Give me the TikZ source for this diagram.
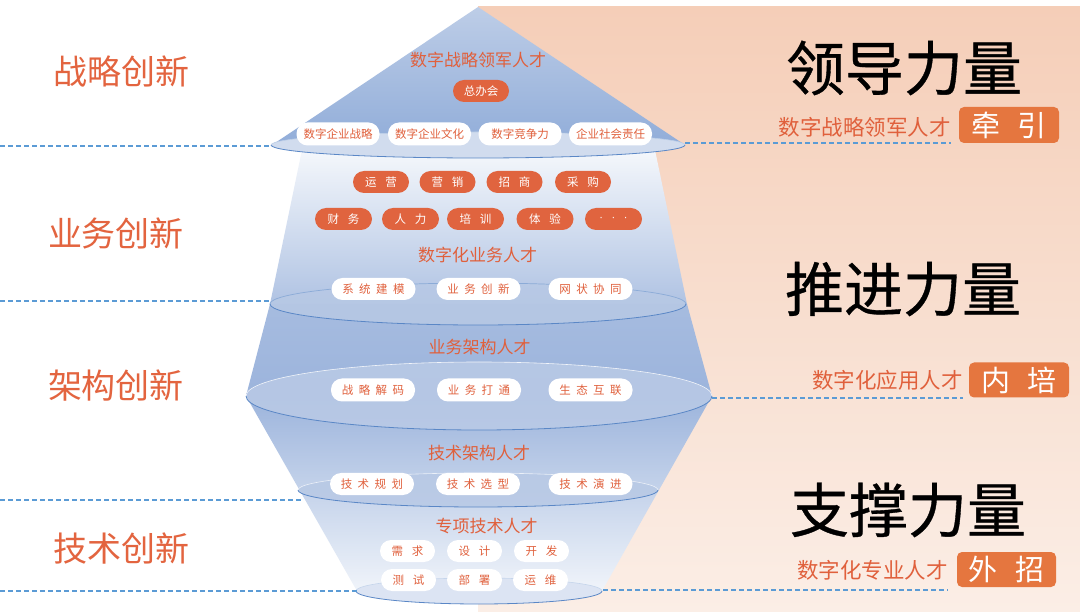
\documentclass[tikz,border=0pt]{standalone}
\usepackage{fontspec}
\setmainfont{Noto Sans CJK SC}
\newfontfamily\titlefont[FakeBold=0.6]{Noto Sans CJK SC}
\newfontfamily\dotfont{DejaVu Sans}
\definecolor{org}{HTML}{E0603C}
\definecolor{lorg}{HTML}{E3643F}
\definecolor{pillorg}{HTML}{E0643F}
\definecolor{badge}{HTML}{E5763F}
\definecolor{dashc}{HTML}{5B9BD5}
\definecolor{edgec}{HTML}{5A87C6}
\definecolor{peachT}{HTML}{F5CEB8}
\definecolor{peachM}{HTML}{EEB395}
\definecolor{peachB}{HTML}{FBEEE6}
\definecolor{blA}{HTML}{BDCDE7}
\definecolor{blB}{HTML}{91ADD9}
\definecolor{bmid}{HTML}{9CB4DC}
\definecolor{pale}{HTML}{F0F4FA}
\tikzset{
  wpill/.style={fill=white, text=org, rounded corners=11pt, minimum height=22pt, minimum width=84pt, inner sep=0pt, font=\fontsize{11.5}{11.5}\selectfont},
  opill/.style={fill=pillorg, text=white, rounded corners=11pt, minimum height=22pt, minimum width=56pt, inner sep=0pt, font=\fontsize{11.5}{11.5}\selectfont},
  spill/.style={wpill, minimum width=55pt},
  midtitle/.style={text=org, font=\fontsize{17}{17}\selectfont},
  lefttitle/.style={text=lorg, font=\fontsize{34}{34}\selectfont},
  bigtitle/.style={text=black, font=\titlefont\fontsize{59}{59}\selectfont},
  subtitle/.style={text=org, font=\fontsize{21.5}{21.5}\selectfont, anchor=east, inner sep=0pt},
  badgebox/.style={fill=badge, text=white, rounded corners=5pt, minimum width=100pt, minimum height=36pt, inner sep=0pt, font=\fontsize{29}{29}\selectfont},
  dline/.style={dashc, dashed, dash pattern=on 5pt off 3pt, line width=1.3pt},
}
\newcommand\gA{\hspace{5.5pt}}
\newcommand\gB{\hspace{9pt}}
\newcommand\gC{\hspace{18pt}}
\begin{document}
\begin{tikzpicture}[x=1pt,y=-1pt]
\useasboundingbox (0,0) rectangle (1080,612);
\fill[white] (0,0) rectangle (1080,612);
% peach background
\shade[top color=peachT, middle color=peachM, bottom color=peachB] (478,7) rectangle (1080,612);

% pyramid body
\shade[top color=bmid, middle color=bmid!80!white, bottom color=pale] (246,396) -- (712,396) -- (602,591) -- (357,591) -- cycle;
\shade[top color=bmid!90!white, bottom color=bmid] (270,304) -- (687,304) -- (712,396) -- (246,396) -- cycle;
\shade[top color=pale!70!white, middle color=bmid!45!white, bottom color=bmid!80!white] (302,150) -- (655,150) -- (687,304) -- (270,304) -- cycle;
\shade[top color=blA, bottom color=blB] (478,7) -- (685,145) -- (272,145) -- cycle;

% ellipses
\fill[blA!70!white] (478,145) ellipse [x radius=207, y radius=13];
\draw[edgec, line width=0.8pt] (685,145) arc [start angle=0, end angle=180, x radius=207, y radius=13];
\draw[edgec!40, line width=0.6pt] (685,145) arc [start angle=0, end angle=-180, x radius=207, y radius=13];

\fill[blA!85!bmid, opacity=0.8] (478,304) ellipse [x radius=208, y radius=21];
\draw[edgec, line width=0.8pt] (686,304) arc [start angle=0, end angle=180, x radius=208, y radius=21];
\draw[edgec!70, line width=0.7pt] (686,304) arc [start angle=0, end angle=-180, x radius=208, y radius=21];

\fill[blA!90!bmid, opacity=0.85] (479,396) ellipse [x radius=233, y radius=34];
\draw[edgec, line width=0.8pt] (712,396) arc [start angle=0, end angle=180, x radius=233, y radius=34];
\draw[white!80!blA, line width=0.6pt] (712,396) arc [start angle=0, end angle=-180, x radius=233, y radius=34];

\fill[blA!85!bmid, opacity=0.85] (478,490) ellipse [x radius=180, y radius=17];
\draw[edgec, line width=0.8pt] (658,490) arc [start angle=0, end angle=180, x radius=180, y radius=17];
\draw[white!70!blA, line width=0.6pt] (658,490) arc [start angle=0, end angle=-180, x radius=180, y radius=17];

\fill[pale!60!blA] (479,591) ellipse [x radius=123, y radius=13];
\draw[edgec, line width=0.8pt] (602,591) arc [start angle=0, end angle=180, x radius=123, y radius=13];
\draw[edgec!35, line width=0.6pt] (602,591) arc [start angle=0, end angle=-180, x radius=123, y radius=13];

% coordinates for dashed lines
\coordinate (l1a) at (0,146);   \coordinate (l1b) at (272,146);
\coordinate (r1a) at (685,143); \coordinate (r1b) at (951,143);
\coordinate (l2a) at (0,301);   \coordinate (l2b) at (270,301);
\coordinate (r3a) at (712,398); \coordinate (r3b) at (963,398);
\coordinate (l4a) at (0,500);   \coordinate (l4b) at (302,500);
\coordinate (l5a) at (0,591);   \coordinate (l5b) at (357,591);
\coordinate (r5a) at (603,590); \coordinate (r5b) at (948,590);
\draw[dline] (l1a) -- (l1b);
\draw[dline] (r1a) -- (r1b);
\draw[dline] (l2a) -- (l2b);
\draw[dline] (r3a) -- (r3b);
\draw[dline] (l4a) -- (l4b);
\draw[dline] (l5a) -- (l5b);
\draw[dline] (r5a) -- (r5b);

% top section
\node[midtitle] (t1) at (478,60) {数字战略领军人才};
\node[opill] (zbh) at (481,91) {总办会};
\node[wpill, minimum width=83pt, minimum height=23pt] (p11) at (338,134) {数字企业战略};
\node[wpill, minimum width=83pt, minimum height=23pt] (p12) at (429.5,134) {数字企业文化};
\node[wpill, minimum width=83pt, minimum height=23pt] (p13) at (520,134) {数字竞争力};
\node[wpill, minimum width=83pt, minimum height=23pt] (p14) at (610.5,134) {企业社会责任};

% business
\node[opill] (o11) at (381,182) {运\gB 营};
\node[opill] (o12) at (447.5,182) {营\gB 销};
\node[opill] (o13) at (514.5,182) {招\gB 商};
\node[opill] (o14) at (583,182) {采\gB 购};
\node[opill, minimum width=57pt] (o21) at (343.5,219) {财\gB 务};
\node[opill, minimum width=57pt] (o22) at (410.5,219) {人\gB 力};
\node[opill, minimum width=57pt] (o23) at (475.5,219) {培\gB 训};
\node[opill, minimum width=57pt] (o24) at (545,219) {体\gB 验};
\node[opill, minimum width=57pt, font=\dotfont\fontsize{10}{10}\selectfont] (o25) at (613.5,219) {·\gB ·\gB ·};
\node[midtitle] (t2) at (477.5,255) {数字化业务人才};
\node[wpill] (w21) at (373.5,289) {系\gA 统\gA 建\gA 模};
\node[wpill] (w22) at (478.5,289) {业\gA 务\gA 创\gA 新};
\node[wpill] (w23) at (590.5,289) {网\gA 状\gA 协\gA 同};

% architecture
\node[midtitle] (t3) at (479.5,347) {业务架构人才};
\node[wpill, minimum height=23pt] (w31) at (373,390) {战\gA 略\gA 解\gA 码};
\node[wpill, minimum height=23pt] (w32) at (479,390) {业\gA 务\gA 打\gA 通};
\node[wpill, minimum height=23pt] (w33) at (590.5,390) {生\gA 态\gA 互\gA 联};

% technology
\node[midtitle] (t4) at (479,453) {技术架构人才};
\node[wpill] (w41) at (372,484) {技\gA 术\gA 规\gA 划};
\node[wpill] (w42) at (478,484) {技\gA 术\gA 选\gA 型};
\node[wpill] (w43) at (590.5,484) {技\gA 术\gA 演\gA 进};
\node[midtitle] (t5) at (486.5,526) {专项技术人才};
\node[spill] (s11) at (407.5,551) {需\gB 求};
\node[spill] (s12) at (474.5,551) {设\gB 计};
\node[spill] (s13) at (541.5,551) {开\gB 发};
\node[spill] (s21) at (408.5,580) {测\gB 试};
\node[spill] (s22) at (474.5,580) {部\gB 署};
\node[spill] (s23) at (540.5,580) {运\gB 维};

% left labels
\node[lefttitle] (a1) at (121,72) {战略创新};
\node[lefttitle] (a2) at (116,233) {业务创新};
\node[lefttitle] (a3) at (116,386) {架构创新};
\node[lefttitle] (a4) at (121,549) {技术创新};

% right side
\node[bigtitle] (b1) at (904,68) {领导力量};
\node[bigtitle] (b2) at (903,289) {推进力量};
\node[bigtitle] (b3) at (908,510) {支撑力量};
\node[subtitle] (c1) at (951,127) {数字战略领军人才};
\node[badgebox] (d1) at (1009,125) {牵\gC 引};
\node[subtitle] (c2) at (963,380) {数字化应用人才};
\node[badgebox, minimum height=35pt] (d2) at (1019,380) {内\gC 培};
\node[subtitle] (c3) at (948,570) {数字化专业人才};
\node[badgebox, minimum width=99pt, minimum height=35pt] (d3) at (1006.5,569.5) {外\gC 招};
\end{tikzpicture}
\end{document}
